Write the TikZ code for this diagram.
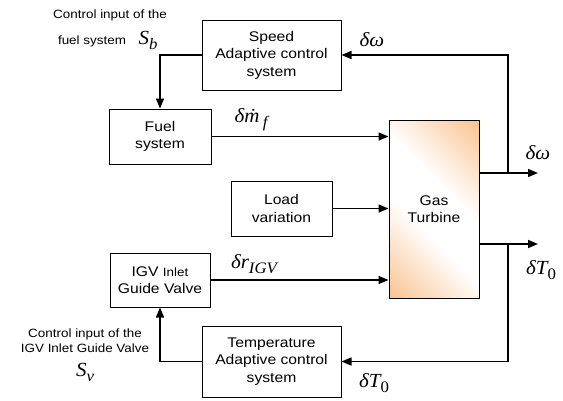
\documentclass[tikz,border=0pt]{standalone}
\usepackage{fontspec}
\setmainfont{Liberation Sans}[FakeStretch=1.12]
\newfontfamily\varfont{Liberation Serif}[FakeStretch=1.05]
\usetikzlibrary{arrows.meta}
\definecolor{gtorange}{RGB}{250,198,150}
\pgfdeclarehorizontalshading{turbineshade}{100bp}{color(0bp)=(gtorange); color(16bp)=(gtorange); color(42bp)=(white); color(58bp)=(white); color(84bp)=(gtorange); color(100bp)=(gtorange)}
\newcommand{\lowidx}[1]{\raisebox{-5pt}{\fontsize{16}{18}\selectfont #1}}

\begin{document}
\begin{tikzpicture}[
    x=1pt, y=-1pt,
    box/.style={rectangle, draw, line width=1pt, align=center, font=\fontsize{14}{17.5}\selectfont},
    sig/.style={line width=1.5pt, -{Triangle[length=10pt,width=8pt]}},
    note/.style={align=center, font=\fontsize{12}{15}\selectfont},
    var/.style={font=\fontsize{20}{22}\selectfont\varfont\itshape}
]
    \useasboundingbox (0,0) rectangle (563,400);

    % blocks
    \node[box, minimum width=139pt, minimum height=70pt] (spd) at (271.5,55) {Speed\\Adaptive control\\system};
    \node[box, minimum width=102pt, minimum height=55pt] (fuel) at (160,136.5) {Fuel\\system};
    \node[box, minimum width=101pt, minimum height=55pt] (load) at (281.5,208.5) {Load\\variation};
    \node[box, minimum width=100pt, minimum height=54pt] (igv) at (160,280) {IGV {\fontsize{12}{15}\selectfont Inlet}\\Guide Valve};
    \node[box, minimum width=139pt, minimum height=71pt] (temp) at (271.5,361.5) {Temperature\\Adaptive control\\system};
    \node[box, minimum width=90pt, minimum height=178pt, shade, shading=turbineshade, shading angle=45] (gt) at (434,209) {Gas\\Turbine};

    \coordinate (wb) at (508,173);
    \coordinate (wout) at (538,173);
    \coordinate (tb) at (508,244);
    \coordinate (tout) at (538,244);

    % signals
    \draw[sig] (fuel.east) -- (fuel.east -| gt.west);
    \draw[sig] (load.east) -- (load.east -| gt.west);
    \draw[sig] (igv.east) -- (igv.east -| gt.west);
    \draw[sig] (gt.east |- wout) -- (wout);
    \draw[sig] (gt.east |- tout) -- (tout);
    \draw[sig] (wb) |- (spd.east);
    \draw[sig] (tb) |- (temp.east);
    \draw[sig] (spd.west) -| (fuel.north);
    \draw[sig] (temp.west) -| (igv.south);

    % labels
    \node[var] (dwtop) at (372,40) {δω};
    \node[var] (dmf) at (251,120) {δṁ\,\lowidx{f}};
    \node[var] (dwout) at (538,153) {δω};
    \node[var] (drigv) at (254,264) {δr\lowidx{IGV}};
    \node[var] (dtout) at (541,270) {δT\lowidx{\upshape 0}};
    \node[var] (dtbot) at (374,383) {δT\lowidx{\upshape 0}};

    \node[note] (fuelnote1) at (110,15) {Control input of the};
    \node[note] (fuelnote2) at (92,41) {fuel system};
    \node[var] (sb) at (148,40) {S\lowidx{b}};
    \node[note] (igvnote) at (85,341) {Control input of the\\IGV Inlet Guide Valve};
    \node[var] (sv) at (85,372) {S\lowidx{v}};
\end{tikzpicture}
\end{document}
